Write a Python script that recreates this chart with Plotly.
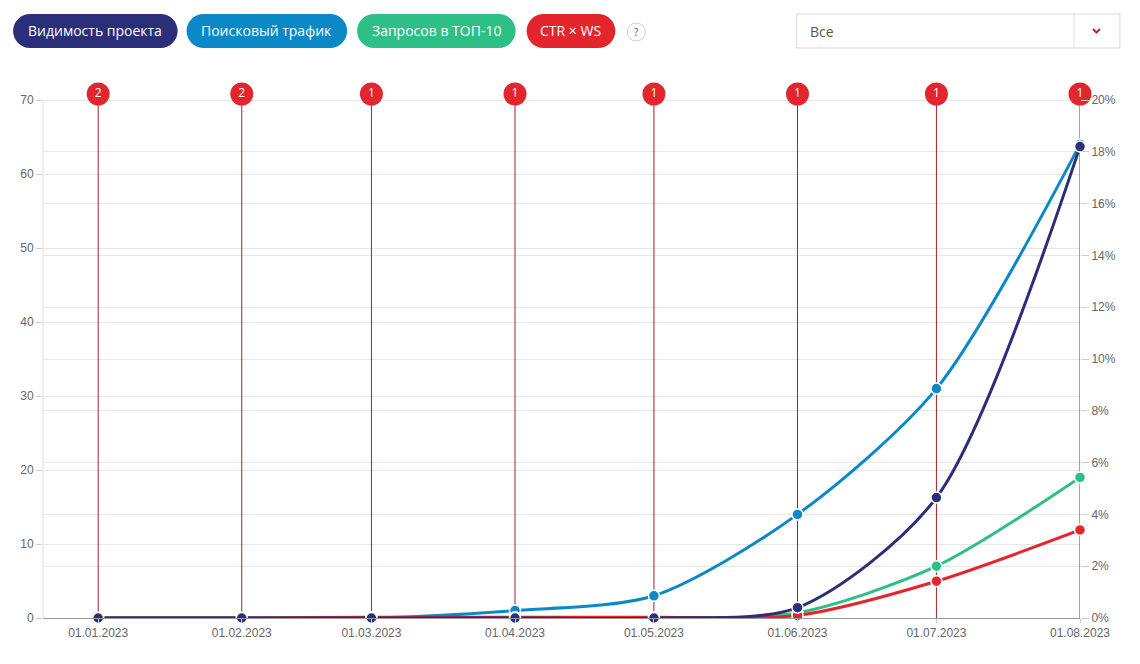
import plotly.graph_objects as go

# данные графика
dates = ["2023-01-01", "2023-02-01", "2023-03-01", "2023-04-01",
         "2023-05-01", "2023-06-01", "2023-07-01", "2023-08-01"]
tick_labels = ["01.01.2023", "01.02.2023", "01.03.2023", "01.04.2023",
               "01.05.2023", "01.06.2023", "01.07.2023", "01.08.2023"]
visibility = [0, 0, 0, 0, 0, 0.4, 4.65, 18.2]      # %, правая ось
traffic = [0, 0, 0, 1, 3, 14, 31, 64]               # левая ось
top10 = [0, 0, 0, 0, 0, 0.7, 7, 19]                 # левая ось
ctr_ws = [0, 0, 0.03, 0.03, 0.03, 0.1, 1.42, 3.4]   # %, правая ось
event_counts = [2, 2, 1, 1, 1, 1, 1, 1]
left_ticks = [0, 10, 20, 30, 40, 50, 60, 70]
right_ticks = [0, 2, 4, 6, 8, 10, 12, 14, 16, 18, 20]

NAVY = "#2b2e78"
BLUE = "#0b88c6"
GREEN = "#2ebf86"
RED = "#e3262e"
EVENT_LINE = "#a5222a"

# страница имеет отступ 8px, поэтому фигура чуть меньше окна
OFF = 8
W, H = 1140 - OFF, 664 - OFF
# область графика чуть выше верхней линии сетки, чтобы кружки событий не обрезались
AXIS_TOP, PLOT_TOP, AXIS_BOTTOM = 100, 80, 618
L, R, T, B = 40 - OFF, 60, PLOT_TOP - OFF, 664 - AXIS_BOTTOM
PW, PH = W - L - R, H - T - B
STRETCH = (AXIS_BOTTOM - PLOT_TOP) / (AXIS_BOTTOM - AXIS_TOP)
Y_MAX, Y2_MAX = left_ticks[-1], right_ticks[-1]
EVENT_Y = Y_MAX * (AXIS_BOTTOM - 94) / (AXIS_BOTTOM - AXIS_TOP)


def px(x):
    # координаты страницы -> paper
    return (x - OFF - L) / PW


def py(y):
    return (AXIS_BOTTOM - y) / PH


fig = go.Figure()

# вертикальные линии событий
ev_x, ev_y = [], []
for d in dates:
    ev_x += [d, d, None]
    ev_y += [0, EVENT_Y, None]
fig.add_trace(go.Scatter(x=ev_x, y=ev_y, mode="lines",
                         line=dict(color=EVENT_LINE, width=1),
                         hoverinfo="skip", showlegend=False))


def series(y, color, axis, name):
    return go.Scatter(
        x=dates, y=y, name=name, yaxis=axis, mode="lines+markers",
        line=dict(color=color, width=3, shape="spline", smoothing=0.8),
        marker=dict(size=11, color=color, line=dict(color="white", width=1.5)),
        showlegend=False, cliponaxis=False)


fig.add_trace(series(ctr_ws, RED, "y2", "CTR × WS"))
fig.add_trace(series(top10, GREEN, "y", "Запросов в ТОП-10"))
fig.add_trace(series(traffic, BLUE, "y", "Поисковый трафик"))
fig.add_trace(series(visibility, NAVY, "y2", "Видимость проекта"))

# кружки с количеством событий
fig.add_trace(go.Scatter(
    x=dates, y=[EVENT_Y] * len(dates), mode="markers+text",
    text=[str(c) for c in event_counts], textposition="middle center",
    textfont=dict(color="white", size=12, family="Open Sans"),
    marker=dict(size=23, color=RED), cliponaxis=False,
    hoverinfo="skip", showlegend=False))

tick_font = dict(family="Liberation Sans, Arial", size=12, color="#666666")

fig.update_layout(
    width=W, height=H, autosize=False,
    margin=dict(l=L, r=R, t=T, b=B, pad=0),
    plot_bgcolor="white", paper_bgcolor="white",
    xaxis=dict(type="date", range=["2022-12-20 02:00", "2023-08-01"],
               tickvals=dates, ticktext=tick_labels, tickfont=tick_font,
               showgrid=False, zeroline=False, showline=True,
               linecolor="#999999", ticks="outside", ticklen=4,
               tickcolor="#cccccc"),
    yaxis=dict(range=[0, Y_MAX * STRETCH], tickvals=left_ticks,
               ticktext=[str(v) for v in left_ticks],
               tickfont=tick_font, gridcolor="#e6e6e6", zeroline=False,
               showline=False, ticks="outside", ticklen=6, tickcolor="#cccccc"),
    yaxis2=dict(range=[0, Y2_MAX * STRETCH], tickvals=right_ticks,
                ticktext=[f"{v}%" for v in right_ticks], tickfont=tick_font,
                overlaying="y", side="right", gridcolor="#e6e6e6",
                zeroline=False, showline=False, ticks="outside", ticklen=8,
                tickcolor="#cccccc"),
)

shapes = []
annotations = []

# левая линия оси только до верхней линии сетки
shapes.append(dict(type="line", xref="paper", yref="y", x0=0, x1=0, y0=0, y1=Y_MAX,
                   line=dict(color="#dddddd", width=1), layer="below"))

# кнопки-переключатели над графиком
buttons = [("Видимость проекта", NAVY, 10, 175),
           ("Поисковый трафик", BLUE, 184, 345),
           ("Запросов в ТОП-10", GREEN, 355, 514),
           ("CTR × WS", RED, 525, 614)]
for label, color, x0, x1 in buttons:
    y0, y1 = 14, 48
    r = (y1 - y0) / 2
    shapes.append(dict(type="rect", xref="paper", yref="paper",
                       x0=px(x0 + r), x1=px(x1 - r), y0=py(y1), y1=py(y0),
                       fillcolor=color, line_width=0))
    for cx in (x0 + r, x1 - r):
        shapes.append(dict(type="circle", xref="paper", yref="paper",
                           x0=px(cx - r), x1=px(cx + r), y0=py(y1), y1=py(y0),
                           fillcolor=color, line_width=0))
    annotations.append(dict(text=label, xref="paper", yref="paper",
                            x=px((x0 + x1) / 2), y=py(31),
                            xanchor="center", yanchor="middle", showarrow=False,
                            font=dict(family="Open Sans", size=14, color="white")))

# значок "?"
shapes.append(dict(type="circle", xref="paper", yref="paper",
                   x0=px(626), x1=px(644), y0=py(41), y1=py(23),
                   fillcolor="white", line=dict(color="#d0d0d0", width=1)))
annotations.append(dict(text="?", xref="paper", yref="paper", x=px(635), y=py(32),
                        xanchor="center", yanchor="middle", showarrow=False,
                        font=dict(family="Open Sans", size=10, color="#555")))

# выпадающий список
shapes.append(dict(type="rect", xref="paper", yref="paper",
                   x0=px(796), x1=px(1120), y0=py(48), y1=py(14),
                   fillcolor="white", line=dict(color="#d9d9d9", width=1)))
shapes.append(dict(type="line", xref="paper", yref="paper",
                   x0=px(1074), x1=px(1074), y0=py(48), y1=py(14),
                   line=dict(color="#e0e0e0", width=1)))
shapes.append(dict(type="path", xref="paper", yref="paper",
                   path=f"M {px(1093)},{py(29)} L {px(1096.5)},{py(32.5)} L {px(1100)},{py(29)}",
                   line=dict(color="#c4262e", width=2)))
annotations.append(dict(text="Все", xref="paper", yref="paper", x=px(807), y=py(32),
                        xanchor="left", yanchor="middle", showarrow=False,
                        font=dict(family="Open Sans", size=14, color="#555")))

fig.update_layout(shapes=shapes, annotations=annotations)

fig.write_html("out.html")
